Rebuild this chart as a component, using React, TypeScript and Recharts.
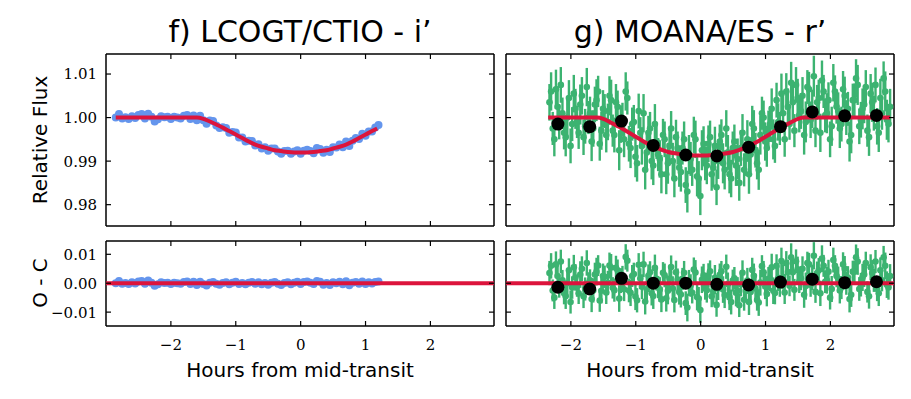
import { ComposedChart, Scatter, XAxis, YAxis, ErrorBar } from "recharts";

// panel f) LCOGT/CTIO i'
const blueHours = [
  -2.85, -2.8, -2.75, -2.7, -2.65, -2.6, -2.55, -2.5, -2.45, -2.4,
  -2.35, -2.3, -2.25, -2.2, -2.15, -2.1, -2.05, -2.0, -1.95, -1.9,
  -1.85, -1.8, -1.75, -1.7, -1.65, -1.6, -1.55, -1.5, -1.45, -1.4,
  -1.35, -1.3, -1.25, -1.2, -1.15, -1.1, -1.05, -1.0, -0.95, -0.9,
  -0.85, -0.8, -0.75, -0.7, -0.65, -0.6, -0.55, -0.5, -0.45, -0.4,
  -0.35, -0.3, -0.25, -0.2, -0.15, -0.1, -0.05, 0.0, 0.05, 0.1,
  0.15, 0.2, 0.25, 0.3, 0.35, 0.4, 0.45, 0.5, 0.55, 0.6,
  0.65, 0.7, 0.75, 0.8, 0.85, 0.9, 0.95, 1.0, 1.05, 1.1,
  1.15, 1.2,
];
const blueFlux = [
  1.0, 1.0008, 0.9998, 1.0001, 0.9997, 1.0003, 0.9999, 1.0006, 1.0008, 0.9998,
  1.0009, 1.0002, 0.9991, 0.9996, 1.0003, 1.0001, 1.0002, 0.9997, 1.0002, 1.0,
  0.9998, 1.0004, 1.0006, 0.9997, 1.0005, 0.9994, 1.0004, 0.9994, 0.9986, 0.9993,
  0.9992, 0.9982, 0.9976, 0.9978, 0.9976, 0.9965, 0.9967, 0.9966, 0.9954, 0.9954,
  0.9945, 0.9947, 0.9946, 0.9936, 0.9939, 0.9929, 0.9932, 0.9924, 0.9929, 0.9929,
  0.9922, 0.9917, 0.9923, 0.9924, 0.9917, 0.9922, 0.9925, 0.9917, 0.9924, 0.9926,
  0.9923, 0.9918, 0.993, 0.9928, 0.9919, 0.9926, 0.9921, 0.9932, 0.9931, 0.9938,
  0.9932, 0.9945, 0.9935, 0.9947, 0.9953, 0.9951, 0.9963, 0.9958, 0.9968, 0.9968,
  0.9977, 0.9983,
];
const blueResid = [
  0.0, 0.0008, -0.0002, 0.0001, -0.0003, 0.0003, -0.0001, 0.0006, 0.0008, -0.0002,
  0.0009, 0.0002, -0.0009, -0.0004, 0.0003, 0.0001, 0.0002, -0.0003, 0.0002, 0.0,
  -0.0002, 0.0004, 0.0006, -0.0003, 0.0005, -0.0006, 0.0005, -0.0003, -0.0008, 0.0002,
  0.0004, -0.0002, -0.0005, 0.0001, 0.0003, -0.0004, 0.0002, 0.0005, -0.0003, 0.0001,
  -0.0004, 0.0002, 0.0004, -0.0002, 0.0003, -0.0004, 0.0001, -0.0005, 0.0002, 0.0004,
  -0.0002, -0.0006, 0.0001, 0.0003, -0.0004, 0.0002, 0.0005, -0.0003, 0.0004, 0.0006,
  0.0002, -0.0003, 0.0008, 0.0005, -0.0005, 0.0001, -0.0006, 0.0003, 0.0, 0.0005,
  -0.0004, 0.0007, -0.0007, 0.0002, 0.0004, -0.0002, 0.0006, -0.0003, 0.0003, -0.0001,
  0.0004, 0.0006,
];
const modelLeftHours = [
  -2.85, -2.4, -2.0, -1.6, -1.5, -1.4, -1.3, -1.2, -1.1, -1.0, -0.9, -0.8, -0.7, -0.6, -0.5, -0.4,
  -0.3, -0.2, -0.1, 0.0, 0.1, 0.2, 0.3, 0.4, 0.5, 0.6, 0.7, 0.8, 0.9, 1.0, 1.1, 1.18,
];
const modelLeftFlux = [
  1.0, 1.0, 1.0, 1.0, 0.9997, 0.9991, 0.9984, 0.9977, 0.9969, 0.9961, 0.9953, 0.9945, 0.9938, 0.9933, 0.9929, 0.9925,
  0.9923, 0.9921, 0.992, 0.992, 0.992, 0.9921, 0.9923, 0.9925, 0.9929, 0.9933, 0.9938, 0.9945, 0.9953, 0.9961, 0.9969, 0.9975,
];

// panel g) MOANA/ES r' (two interleaved runs of exposures)
const greenHours = [
  -2.33, -2.28, -2.23, -2.18, -2.13, -2.08, -2.03, -1.98, -1.93, -1.88,
  -1.83, -1.78, -1.73, -1.68, -1.63, -1.58, -1.53, -1.48, -1.43, -1.38,
  -1.33, -1.28, -1.23, -1.18, -1.13, -1.08, -1.03, -0.98, -0.93, -0.88,
  -0.83, -0.78, -0.73, -0.68, -0.63, -0.58, -0.53, -0.48, -0.43, -0.38,
  -0.33, -0.28, -0.23, -0.18, -0.13, -0.08, -0.03, 0.02, 0.07, 0.12,
  0.17, 0.22, 0.27, 0.32, 0.37, 0.42, 0.47, 0.52, 0.57, 0.62,
  0.67, 0.72, 0.77, 0.82, 0.87, 0.92, 0.97, 1.02, 1.07, 1.12,
  1.17, 1.22, 1.27, 1.32, 1.37, 1.42, 1.47, 1.52, 1.57, 1.62,
  1.67, 1.72, 1.77, 1.82, 1.87, 1.92, 1.97, 2.02, 2.07, 2.12,
  2.17, 2.22, 2.27, 2.32, 2.37, 2.42, 2.47, 2.52, 2.57, 2.62,
  2.67, 2.72, 2.77, 2.82, 2.87, 2.92,
];
const greenFlux = [
  1.0035, 0.9975, 1.0065, 0.999, 1.001, 0.9955, 1.0045, 0.9985, 1.002, 0.9965,
  1.005, 0.998, 1.0, 0.9945, 1.003, 1.006, 0.997, 1.0015, 0.999, 1.004,
  0.996, 1.0025, 0.9985, 0.995, 1.0045, 0.993, 0.999, 0.9895, 0.9965, 1.001,
  0.992, 0.9975, 0.989, 0.9945, 0.9905, 0.996, 0.987, 0.9935, 0.99, 0.9955,
  0.9885, 0.993, 0.9845, 0.9915, 0.988, 0.995, 0.986, 0.9925, 0.9895, 0.994,
  0.987, 0.9935, 0.99, 0.996, 0.988, 0.992, 0.986, 0.9945, 0.9905, 0.993,
  0.988, 0.995, 0.9915, 0.9975, 0.9895, 0.996, 1.0, 0.993, 0.9985, 0.995,
  1.004, 0.9975, 1.001, 1.006, 0.9985, 1.0035, 1.0075, 1.0005, 1.005, 0.999,
  1.0065, 1.002, 0.997, 1.0045, 1.0085, 1.0005, 1.004, 0.998, 1.006, 1.0015,
  0.9985, 1.005, 1.002, 0.996, 1.004, 1.0075, 0.9995, 1.003, 0.997, 1.0055,
  1.001, 0.998, 1.0045, 1.009, 0.9995, 1.0025,
];
const greenResid = [
  0.0035, -0.0025, 0.0065, -0.001, 0.001, -0.0045, 0.0045, -0.0015, 0.002, -0.0035,
  0.005, -0.002, 0.0, -0.0055, 0.003, 0.0061, -0.0026, 0.0022, 0.0001, 0.0054,
  -0.0024, 0.0045, 0.0009, -0.0021, 0.0078, -0.0033, 0.0032, -0.0059, 0.0016, 0.0065,
  -0.0021, 0.0038, -0.0044, 0.0015, -0.0022, 0.0036, -0.0052, 0.0015, -0.0018, 0.0038,
  -0.003, 0.0015, -0.0069, 0.0001, -0.0033, 0.0037, -0.0053, 0.0012, -0.0018, 0.0027,
  -0.0045, 0.0019, -0.0017, 0.0041, -0.0041, -0.0003, -0.0065, 0.0017, -0.0026, -0.0004,
  -0.0057, 0.0009, -0.003, 0.0026, -0.0058, 0.0002, 0.0038, -0.0037, 0.0014, -0.0026,
  0.006, -0.0009, 0.0022, 0.0069, -0.0009, 0.0038, 0.0076, 0.0005, 0.005, -0.001,
  0.0065, 0.002, -0.003, 0.0045, 0.0085, 0.0005, 0.004, -0.002, 0.006, 0.0015,
  -0.0015, 0.005, 0.002, -0.004, 0.004, 0.0075, -0.0005, 0.003, -0.003, 0.0055,
  0.001, -0.002, 0.0045, 0.009, -0.0005, 0.0025,
];
const greenErr = [
  0.0042, 0.0038, 0.0045, 0.004, 0.0036, 0.0044, 0.0041, 0.0039, 0.0046, 0.0037,
  0.0043, 0.004, 0.0038, 0.0045, 0.0041, 0.0036, 0.0044, 0.0039, 0.0042, 0.0047,
  0.004, 0.0037, 0.0043, 0.0041, 0.0038, 0.0046, 0.0039, 0.0042, 0.0036, 0.0044,
  0.0041, 0.0038, 0.0045, 0.004, 0.0043, 0.0037, 0.0046, 0.0039, 0.0042, 0.004,
  0.0044, 0.0038, 0.0041, 0.0045, 0.0037, 0.0043, 0.004, 0.0046, 0.0039, 0.0042,
  0.0038, 0.0044, 0.0041, 0.0036, 0.0045, 0.004, 0.0043, 0.0039, 0.0047, 0.0041,
  0.0038, 0.0044, 0.004, 0.0042, 0.0037, 0.0045, 0.0039, 0.0043, 0.0041, 0.0046,
  0.004, 0.0038, 0.0044, 0.0042, 0.0036, 0.0045, 0.0041, 0.0039, 0.0043, 0.0047,
  0.004, 0.0044, 0.0038, 0.0042, 0.0046, 0.0039, 0.0041, 0.0045, 0.0037, 0.0043,
  0.004, 0.0044, 0.0039, 0.0042, 0.0038, 0.0046, 0.0041, 0.0043, 0.0037, 0.0045,
  0.004, 0.0042, 0.0044, 0.0039, 0.0046, 0.0041,
];
const greenHours2 = [
  -2.305, -2.255, -2.205, -2.155, -2.105, -2.055, -2.005, -1.955, -1.905, -1.855,
  -1.805, -1.755, -1.705, -1.655, -1.605, -1.555, -1.505, -1.455, -1.405, -1.355,
  -1.305, -1.255, -1.205, -1.155, -1.105, -1.055, -1.005, -0.955, -0.905, -0.855,
  -0.805, -0.755, -0.705, -0.655, -0.605, -0.555, -0.505, -0.455, -0.405, -0.355,
  -0.305, -0.255, -0.205, -0.155, -0.105, -0.055, -0.005, 0.045, 0.095, 0.145,
  0.195, 0.245, 0.295, 0.345, 0.395, 0.445, 0.495, 0.545, 0.595, 0.645,
  0.695, 0.745, 0.795, 0.845, 0.895, 0.945, 0.995, 1.045, 1.095, 1.145,
  1.195, 1.245, 1.295, 1.345, 1.395, 1.445, 1.495, 1.545, 1.595, 1.645,
  1.695, 1.745, 1.795, 1.845, 1.895, 1.945, 1.995, 2.045, 2.095, 2.145,
  2.195, 2.245, 2.295, 2.345, 2.395, 2.445, 2.495, 2.545, 2.595, 2.645,
  2.695, 2.745, 2.795, 2.845, 2.895,
];
const greenFlux2 = [
  1.006, 0.995, 1.0025, 1.0075, 0.9965, 1.0, 0.9935, 1.0055, 0.999, 1.003,
  0.9955, 1.007, 1.001, 0.9975, 1.004, 0.994, 1.002, 0.996, 1.005, 0.997,
  1.0035, 0.9925, 0.9995, 1.006, 0.994, 0.9985, 0.991, 1.0015, 0.9935, 0.988,
  0.9965, 0.99, 0.9985, 0.9915, 0.987, 0.995, 0.9895, 0.9975, 0.986, 0.993,
  0.9875, 0.995, 0.983, 0.9905, 0.996, 0.9865, 0.982, 0.994, 0.989, 0.9955,
  0.9885, 0.984, 0.9945, 0.9895, 0.9975, 0.987, 0.993, 0.989, 0.985, 0.9965,
  0.9905, 0.987, 0.9985, 0.9925, 0.988, 1.001, 0.9945, 0.9975, 1.002, 0.9935,
  0.999, 1.0055, 0.995, 1.0025, 1.008, 0.997, 1.0045, 1.0015, 0.996, 1.007,
  0.9995, 1.0095, 1.0035, 0.9965, 1.006, 1.001, 0.995, 1.008, 1.0025, 0.9975,
  1.0065, 1.0, 0.9945, 1.004, 1.009, 0.998, 1.002, 1.007, 0.9955, 1.0035,
  1.0075, 0.9965, 1.001, 1.006, 0.9985,
];
const greenResid2 = [
  0.006, -0.005, 0.0025, 0.0075, -0.0035, 0.0, -0.0065, 0.0055, -0.001, 0.003,
  -0.0045, 0.007, 0.001, -0.0025, 0.004, -0.006, 0.0025, -0.0032, 0.0061, -0.0016,
  0.0053, -0.0053, 0.0021, 0.0091, -0.0025, 0.0025, -0.0046, 0.0064, -0.0012, -0.0063,
  0.0026, -0.0035, 0.0053, -0.0014, -0.0056, 0.0027, -0.0026, 0.0056, -0.0058, 0.0013,
  -0.0039, 0.0036, -0.0084, -0.0008, 0.0047, -0.0048, -0.0093, 0.0027, -0.0024, 0.0041,
  -0.0029, -0.0075, 0.0029, -0.0022, 0.0057, -0.0049, 0.0009, -0.0033, -0.0076, 0.0036,
  -0.0027, -0.0065, 0.0046, -0.0018, -0.0067, 0.0059, -0.0011, 0.0015, 0.0055, -0.0034,
  0.0016, 0.0077, -0.0032, 0.0039, 0.009, -0.0023, 0.0048, 0.0017, -0.004, 0.007,
  -0.0005, 0.0095, 0.0035, -0.0035, 0.006, 0.001, -0.005, 0.008, 0.0025, -0.0025,
  0.0065, 0.0, -0.0055, 0.004, 0.009, -0.002, 0.002, 0.007, -0.0045, 0.0035,
  0.0075, -0.0035, 0.001, 0.006, -0.0015,
];
const greenErr2 = [
  0.0044, 0.0039, 0.0047, 0.0041, 0.0038, 0.0045, 0.004, 0.0043, 0.0037, 0.0046,
  0.0041, 0.0044, 0.0038, 0.0042, 0.0048, 0.0039, 0.0043, 0.004, 0.0045, 0.0037,
  0.0042, 0.0046, 0.0039, 0.0044, 0.0041, 0.0038, 0.0047, 0.004, 0.0043, 0.0045,
  0.0039, 0.0042, 0.0046, 0.0038, 0.0044, 0.0041, 0.0047, 0.004, 0.0043, 0.0038,
  0.0045, 0.0041, 0.0048, 0.0039, 0.0042, 0.0046, 0.0044, 0.004, 0.0043, 0.0038,
  0.0045, 0.0041, 0.0039, 0.0046, 0.0042, 0.0044, 0.0038, 0.0047, 0.0041, 0.0043,
  0.0039, 0.0045, 0.0042, 0.004, 0.0046, 0.0038, 0.0044, 0.0041, 0.0047, 0.0039,
  0.0043, 0.0046, 0.004, 0.0042, 0.0048, 0.0038, 0.0044, 0.0041, 0.0045, 0.0039,
  0.0042, 0.0047, 0.004, 0.0044, 0.0038, 0.0046, 0.0041, 0.0043, 0.0039, 0.0045,
  0.0042, 0.004, 0.0046, 0.0038, 0.0044, 0.0041, 0.0047, 0.0039, 0.0043, 0.0045,
  0.004, 0.0044, 0.0038, 0.0046, 0.0042,
];
const binHours = [-2.2, -1.71, -1.22, -0.73, -0.23, 0.25, 0.74, 1.23, 1.72, 2.22, 2.71];
const binFlux = [0.9985, 0.9979, 0.9992, 0.9936, 0.9914, 0.9912, 0.9932, 0.9979, 1.0013, 1.0004, 1.0005];
const binResid = [-0.0014, -0.002, 0.0017, 0.0, 0.0, -0.0004, -0.0006, 0.0004, 0.0014, 0.0002, 0.0005];
const modelRightHours = [
  -2.35, -2.0, -1.6, -1.5, -1.4, -1.3, -1.2, -1.1, -1.0, -0.9, -0.8, -0.7, -0.6, -0.5, -0.4, -0.3, -0.2, -0.1,
  0.0, 0.1, 0.2, 0.3, 0.4, 0.5, 0.6, 0.7, 0.8, 0.9, 1.0, 1.1, 1.2, 1.3, 1.4, 1.5, 1.6, 2.0, 2.5, 2.92,
];
const modelRightFlux = [
  1.0, 1.0, 1.0, 0.9997, 0.999, 0.9982, 0.9974, 0.9965, 0.9956, 0.9947, 0.9939, 0.9932, 0.9926, 0.9921, 0.9918, 0.9916, 0.9914, 0.9913,
  0.9913, 0.9913, 0.9914, 0.9916, 0.9918, 0.9921, 0.9926, 0.9932, 0.9939, 0.9947, 0.9956, 0.9965, 0.9974, 0.9982, 0.999, 0.9997, 1.0, 1.0, 1.0, 1.0,
];
const zeroHours = [-3, 2.98];
const zeroResid = [0, 0];

const xTicks = [-2, -1, 0, 1, 2];
const fluxTicks = [0.98, 0.99, 1.0, 1.01];
const residTicks = [-0.01, 0, 0.01];

const X_DOMAIN = [-3, 2.98];
const FLUX_DOMAIN = [0.9751, 1.0146];
const RESID_DOMAIN = [-0.0148, 0.0146];

const BLUE = "#6495ed";
const GREEN = "#3cb371";
const RED = "#dc143c";
const SERIF = "'DejaVu Serif', serif";
const SANS = "'DejaVu Sans', sans-serif";

const rows = (h: number[], v: number[], e?: number[]) =>
  h.map((x, i) => (e ? { h: x, v: v[i], e: e[i] } : { h: x, v: v[i] }));

const minus = (s: string) => s.replace("-", "\u2212");
const TICK = 5;

const bottomTick = (show: boolean) => (p: any) => (
  <g>
    <line x1={p.x} x2={p.x} y1={p.y} y2={p.y - TICK} stroke="#000" strokeWidth={1.2} />
    {show && (
      <text x={p.x} y={p.y + 24} textAnchor="middle" fontFamily={SERIF} fontSize={15} fill="#000">
        {minus(String(p.payload.value))}
      </text>
    )}
  </g>
);
const topTick = (p: any) => (
  <line x1={p.x} x2={p.x} y1={p.y} y2={p.y + TICK} stroke="#000" strokeWidth={1.2} />
);
const leftTick = (show: boolean) => (p: any) => (
  <g>
    <line x1={p.x} x2={p.x + TICK} y1={p.y} y2={p.y} stroke="#000" strokeWidth={1.2} />
    {show && (
      <text x={p.x - 9} y={p.y} dy="0.36em" textAnchor="end" fontFamily={SERIF} fontSize={15} fill="#000">
        {minus(p.payload.value.toFixed(2))}
      </text>
    )}
  </g>
);
const rightTick = (p: any) => (
  <line x1={p.x} x2={p.x - TICK} y1={p.y} y2={p.y} stroke="#000" strokeWidth={1.2} />
);

const dot = (r: number, fill: string) => (p: any) => <circle cx={p.cx} cy={p.cy} r={r} fill={fill} />;
const noDot = () => <g />;

// model curve drawn as a joined scatter so it stacks above the data points
const model = (h: number[], v: number[]) => (
  <Scatter data={rows(h, v)} dataKey="v" shape={noDot} line={{ stroke: RED, strokeWidth: 4 }}
    lineType="joint" lineJointType="monotoneX" isAnimationActive={false} />
);

const greenSeries = (h: number[], v: number[], e: number[]) => (
  <Scatter data={rows(h, v, e)} dataKey="v" shape={dot(3.3, GREEN)} isAnimationActive={false}>
    <ErrorBar dataKey="e" direction="y" width={0} stroke={GREEN} strokeWidth={2.4} />
  </Scatter>
);

function Panel({ left, top, h, yDomain, yTicks, yLabels, xLabels, children }: any) {
  const plotW = 388;
  const lw = yLabels ? 70 : 6;
  const bh = xLabels ? 40 : 6;
  const axisLine = { stroke: "#000", strokeWidth: 1.5 };
  return (
    <div style={{ position: "absolute", left: left - lw, top: top - 6 }}>
      <ComposedChart width={lw + plotW + 6} height={6 + h + bh} margin={{ top: 0, right: 0, bottom: 0, left: 0 }}>
        <XAxis dataKey="h" type="number" domain={X_DOMAIN} ticks={xTicks} allowDataOverflow interval={0}
          height={bh} tickSize={0} tickMargin={0} tickLine={false} axisLine={axisLine} tick={bottomTick(xLabels)} />
        <XAxis xAxisId="top" orientation="top" dataKey="h" type="number" domain={X_DOMAIN} ticks={xTicks}
          allowDataOverflow interval={0} height={6} tickSize={0} tickMargin={0} tickLine={false} axisLine={axisLine} tick={topTick} />
        <YAxis type="number" domain={yDomain} ticks={yTicks} allowDataOverflow interval={0} width={lw}
          tickSize={0} tickMargin={0} tickLine={false} axisLine={axisLine} tick={leftTick(yLabels)} />
        <YAxis yAxisId="right" orientation="right" type="number" domain={yDomain} ticks={yTicks} allowDataOverflow
          interval={0} width={6} tickSize={0} tickMargin={0} tickLine={false} axisLine={axisLine} tick={rightTick} />
        {children}
      </ComposedChart>
    </div>
  );
}

export default function App() {
  return (
    <div style={{ position: "absolute", left: 0, top: 0, width: 911, height: 399, background: "#fff" }}>
      <svg width={911} height={399} style={{ position: "absolute", left: 0, top: 0 }}>
        <text x={300} y={42} textAnchor="middle" fontFamily={SANS} fontSize={30}>f) LCOGT/CTIO - i’</text>
        <text x={700} y={42} textAnchor="middle" fontFamily={SANS} fontSize={30}>g) MOANA/ES - r’</text>
        <text x={47} y={140} transform="rotate(-90 47 140)" textAnchor="middle" fontFamily={SANS} fontSize={20}>Relative Flux</text>
        <text x={47} y={283} transform="rotate(-90 47 283)" textAnchor="middle" fontFamily={SANS} fontSize={20}>O - C</text>
        <text x={300} y={377} textAnchor="middle" fontFamily={SANS} fontSize={20}>Hours from mid-transit</text>
        <text x={700} y={377} textAnchor="middle" fontFamily={SANS} fontSize={20}>Hours from mid-transit</text>
      </svg>

      <Panel left={106} top={54} h={172} yDomain={FLUX_DOMAIN} yTicks={fluxTicks} yLabels xLabels={false}>
        <Scatter data={rows(blueHours, blueFlux)} dataKey="v" shape={dot(4, BLUE)} isAnimationActive={false} />
        {model(modelLeftHours, modelLeftFlux)}
      </Panel>
      <Panel left={106} top={241} h={85} yDomain={RESID_DOMAIN} yTicks={residTicks} yLabels xLabels>
        <Scatter data={rows(blueHours, blueResid)} dataKey="v" shape={dot(4, BLUE)} isAnimationActive={false} />
        {model(zeroHours, zeroResid)}
      </Panel>

      <Panel left={506} top={54} h={172} yDomain={FLUX_DOMAIN} yTicks={fluxTicks} yLabels={false} xLabels={false}>
        {greenSeries(greenHours, greenFlux, greenErr)}
        {greenSeries(greenHours2, greenFlux2, greenErr2)}
        {model(modelRightHours, modelRightFlux)}
        <Scatter data={rows(binHours, binFlux)} dataKey="v" shape={dot(6.5, "#000")} isAnimationActive={false} />
      </Panel>
      <Panel left={506} top={241} h={85} yDomain={RESID_DOMAIN} yTicks={residTicks} yLabels={false} xLabels>
        {greenSeries(greenHours, greenResid, greenErr)}
        {greenSeries(greenHours2, greenResid2, greenErr2)}
        {model(zeroHours, zeroResid)}
        <Scatter data={rows(binHours, binResid)} dataKey="v" shape={dot(6.5, "#000")} isAnimationActive={false} />
      </Panel>
    </div>
  );
}
